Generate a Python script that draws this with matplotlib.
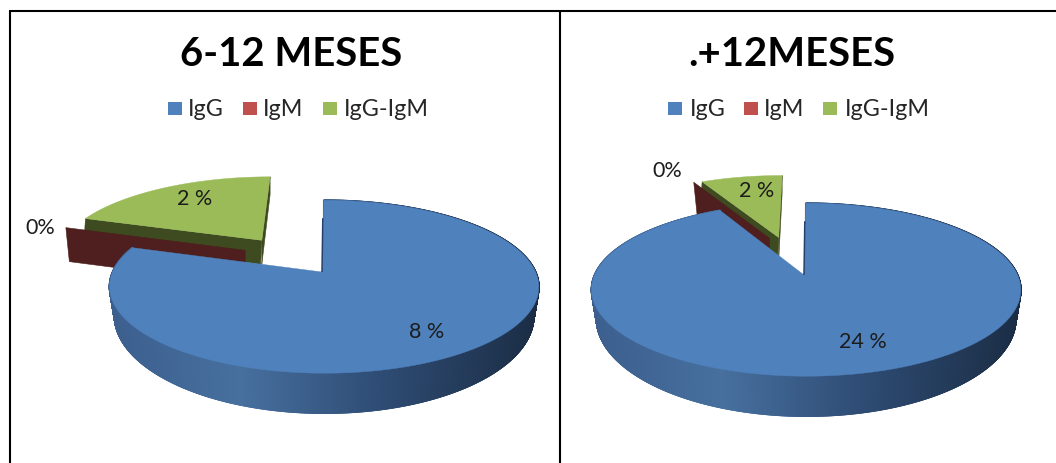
import math
import numpy as np
import matplotlib
matplotlib.use("Agg")
import matplotlib.pyplot as plt
from matplotlib.collections import PolyCollection
from matplotlib.colors import LinearSegmentedColormap
from matplotlib.patches import Polygon, Rectangle

# ---- data
categories = ["IgG", "IgM", "IgG-IgM"]
titles = ["6-12 MESES", ".+12MESES"]
values_left = [8, 0.01, 2]
values_right = [24, 0.01, 2]
labels_left = ["8 %", "0%", "2 %"]
labels_right = ["24 %", "0%", "2 %"]

# ---- style / layout
TOP = ["#4f81bd", "#c0504d", "#9bbb59"]
WALL = ["#3f6496", "#4e1f1e", "#3e4a20"]
wall_cmap = LinearSegmentedColormap.from_list(
    "w", [(0, "#3c5f8e"), (0.3, "#47709f"), (0.62, "#2f4d75"), (1, "#1b2d45")])
K, H, R, D = 0.17, 84, 211.5, 27.5
RED_DEPTH = 34
WALL_TAPER = 5


def project(pan, u, v):
    w = 1 + K * v
    return pan["cx"] + R * u / w, pan["cy"] - H * v / w


def depth(v):
    return D / (1 + K * v) ** 2


def arc(a0, a1, off, per_deg=6):
    """Unit-disc points of the arc between math angles a0 and a1 (deg)."""
    n = max(int(abs(a1 - a0)) * per_deg, 2)
    t = np.radians(np.linspace(a0, a1, n))
    return off[0] + np.cos(t), off[1] + np.sin(t)


def draw_pie(ax, pan, values, label_xy, labels):
    total = sum(values)
    spans = [v / total * 360 for v in values]
    starts = [90 - sum(spans[:i]) for i in range(3)]
    offs = []
    for i in range(3):
        d, ang = pan["explode"][i]
        offs.append((d * math.cos(math.radians(ang)), d * math.sin(math.radians(ang))))

    tt = np.linspace(0, 1, 30)
    for i in (2, 1):
        a0, a1 = starts[i], starts[i] - spans[i]
        ou, ov = offs[i]
        uarc, varc = arc(a0, a1, offs[i])
        # straight wall from apex to outer end of the trailing edge
        ue, ve = uarc[-1], varc[-1]
        us, vs = ou + (ue - ou) * tt, ov + (ve - ov) * tt
        sx, sy = project(pan, us, vs)
        if i == 1:
            lower = sy + RED_DEPTH
            lower_x = sx + 3.5 * tt
        else:
            lower = sy + depth(vs)
            lower_x = sx
        ax.add_patch(Polygon(np.r_[np.c_[sx, sy], np.c_[lower_x, lower][::-1]],
                             fc=WALL[i], ec=WALL[i], lw=0.4))
        if i == 2:
            # thin wall along the leading edge, then the top face
            ue, ve = uarc[0], varc[0]
            us, vs = ou + (ue - ou) * tt, ov + (ve - ov) * tt
            sx, sy = project(pan, us, vs)
            ax.add_patch(Polygon(np.r_[np.c_[sx, sy], np.c_[sx - 1.2, sy + depth(vs)][::-1]],
                                 fc=WALL[i], ec=WALL[i], lw=0.3))
            sx, sy = project(pan, np.r_[ou, uarc], np.r_[ov, varc])
            ax.add_patch(Polygon(np.c_[sx, sy], fc=TOP[i], ec=TOP[i], lw=0.3))

    # blue wedge: curved outer wall with gradient, then top
    a0, a1 = starts[0], starts[0] - spans[0]
    uarc, varc = arc(a0, a1, offs[0])
    sx, sy = project(pan, uarc, varc)
    lower = sy + depth(varc)
    lower_x = sx - WALL_TAPER * (sx - pan["cx"]) / R
    quads, cols = [], []
    xmin, xmax = sx.min(), sx.max()
    for j in range(len(sx) - 1):
        quads.append([(sx[j], sy[j]), (sx[j + 1], sy[j + 1]),
                      (lower_x[j + 1], lower[j + 1]), (lower_x[j], lower[j])])
        cols.append(wall_cmap((0.5 * (sx[j] + sx[j + 1]) - xmin) / (xmax - xmin)))
    ax.add_collection(PolyCollection(quads, facecolors=cols, edgecolors=cols, linewidths=1.2))
    ax_x, ax_y = project(pan, 0, 0)
    ax.add_patch(Polygon(np.r_[[[ax_x, ax_y]], np.c_[sx, sy]], fc=TOP[0], ec=TOP[0], lw=0.3))
    # inner dark sliver on the first edge
    tx, ty = project(pan, uarc[0], varc[0])
    ax.plot([tx - 1, ax_x], [ty + 18, ax_y], color="#25406a", lw=1.1, solid_capstyle="butt")

    for (lx, ly), txt in zip(label_xy, labels):
        ax.text(lx, ly, txt, ha="center", va="center", fontsize=15.5,
                family="Lato", color="#1c1c1c")


fig = plt.figure(figsize=(10.56, 4.63), dpi=100, facecolor="white")
ax = fig.add_axes([0, 0, 1, 1])
ax.set_xlim(0, 1056)
ax.set_ylim(463, 0)
ax.axis("off")

panels = [
    dict(cx=322, cy=272, explode=[(0.01, 0), (0.466, 144.6), (0.505, 127)],
         title_x=291.5, legend_x=[168, 243, 323], text_x=[188, 263, 344]),
    dict(cx=804, cy=275, explode=[(0.01, 0), (0.506, 110.5), (0.5, 105)],
         title_x=792, legend_x=[668, 744, 823], text_x=[690, 764, 845]),
]

draw_pie(ax, panels[0], values_left, [(427, 332), (40, 228), (195, 199)], labels_left)
draw_pie(ax, panels[1], values_right, [(863, 342), (667, 171), (757, 191)], labels_right)

for pan, title in zip(panels, titles):
    ax.text(pan["title_x"], 54, title, ha="center", va="center", fontsize=28.8,
            fontweight="bold", family="Lato", color="black")
    for i, cat in enumerate(categories):
        ax.add_patch(Rectangle((pan["legend_x"][i], 102), 14, 13, fc=TOP[i], ec="none"))
        ax.text(pan["text_x"][i], 109, cat, ha="left", va="center", fontsize=16.8,
                family="Lato", color="#262626")

# frame
ax.plot([9.5, 9.5], [463, 11], color="black", lw=1.5, solid_capstyle="butt")
ax.plot([9, 1056], [11, 11], color="black", lw=1.5, solid_capstyle="butt")
ax.plot([560, 560], [11, 463], color="black", lw=1.5, solid_capstyle="butt")

fig.savefig("out.png", dpi=100, facecolor="white")
